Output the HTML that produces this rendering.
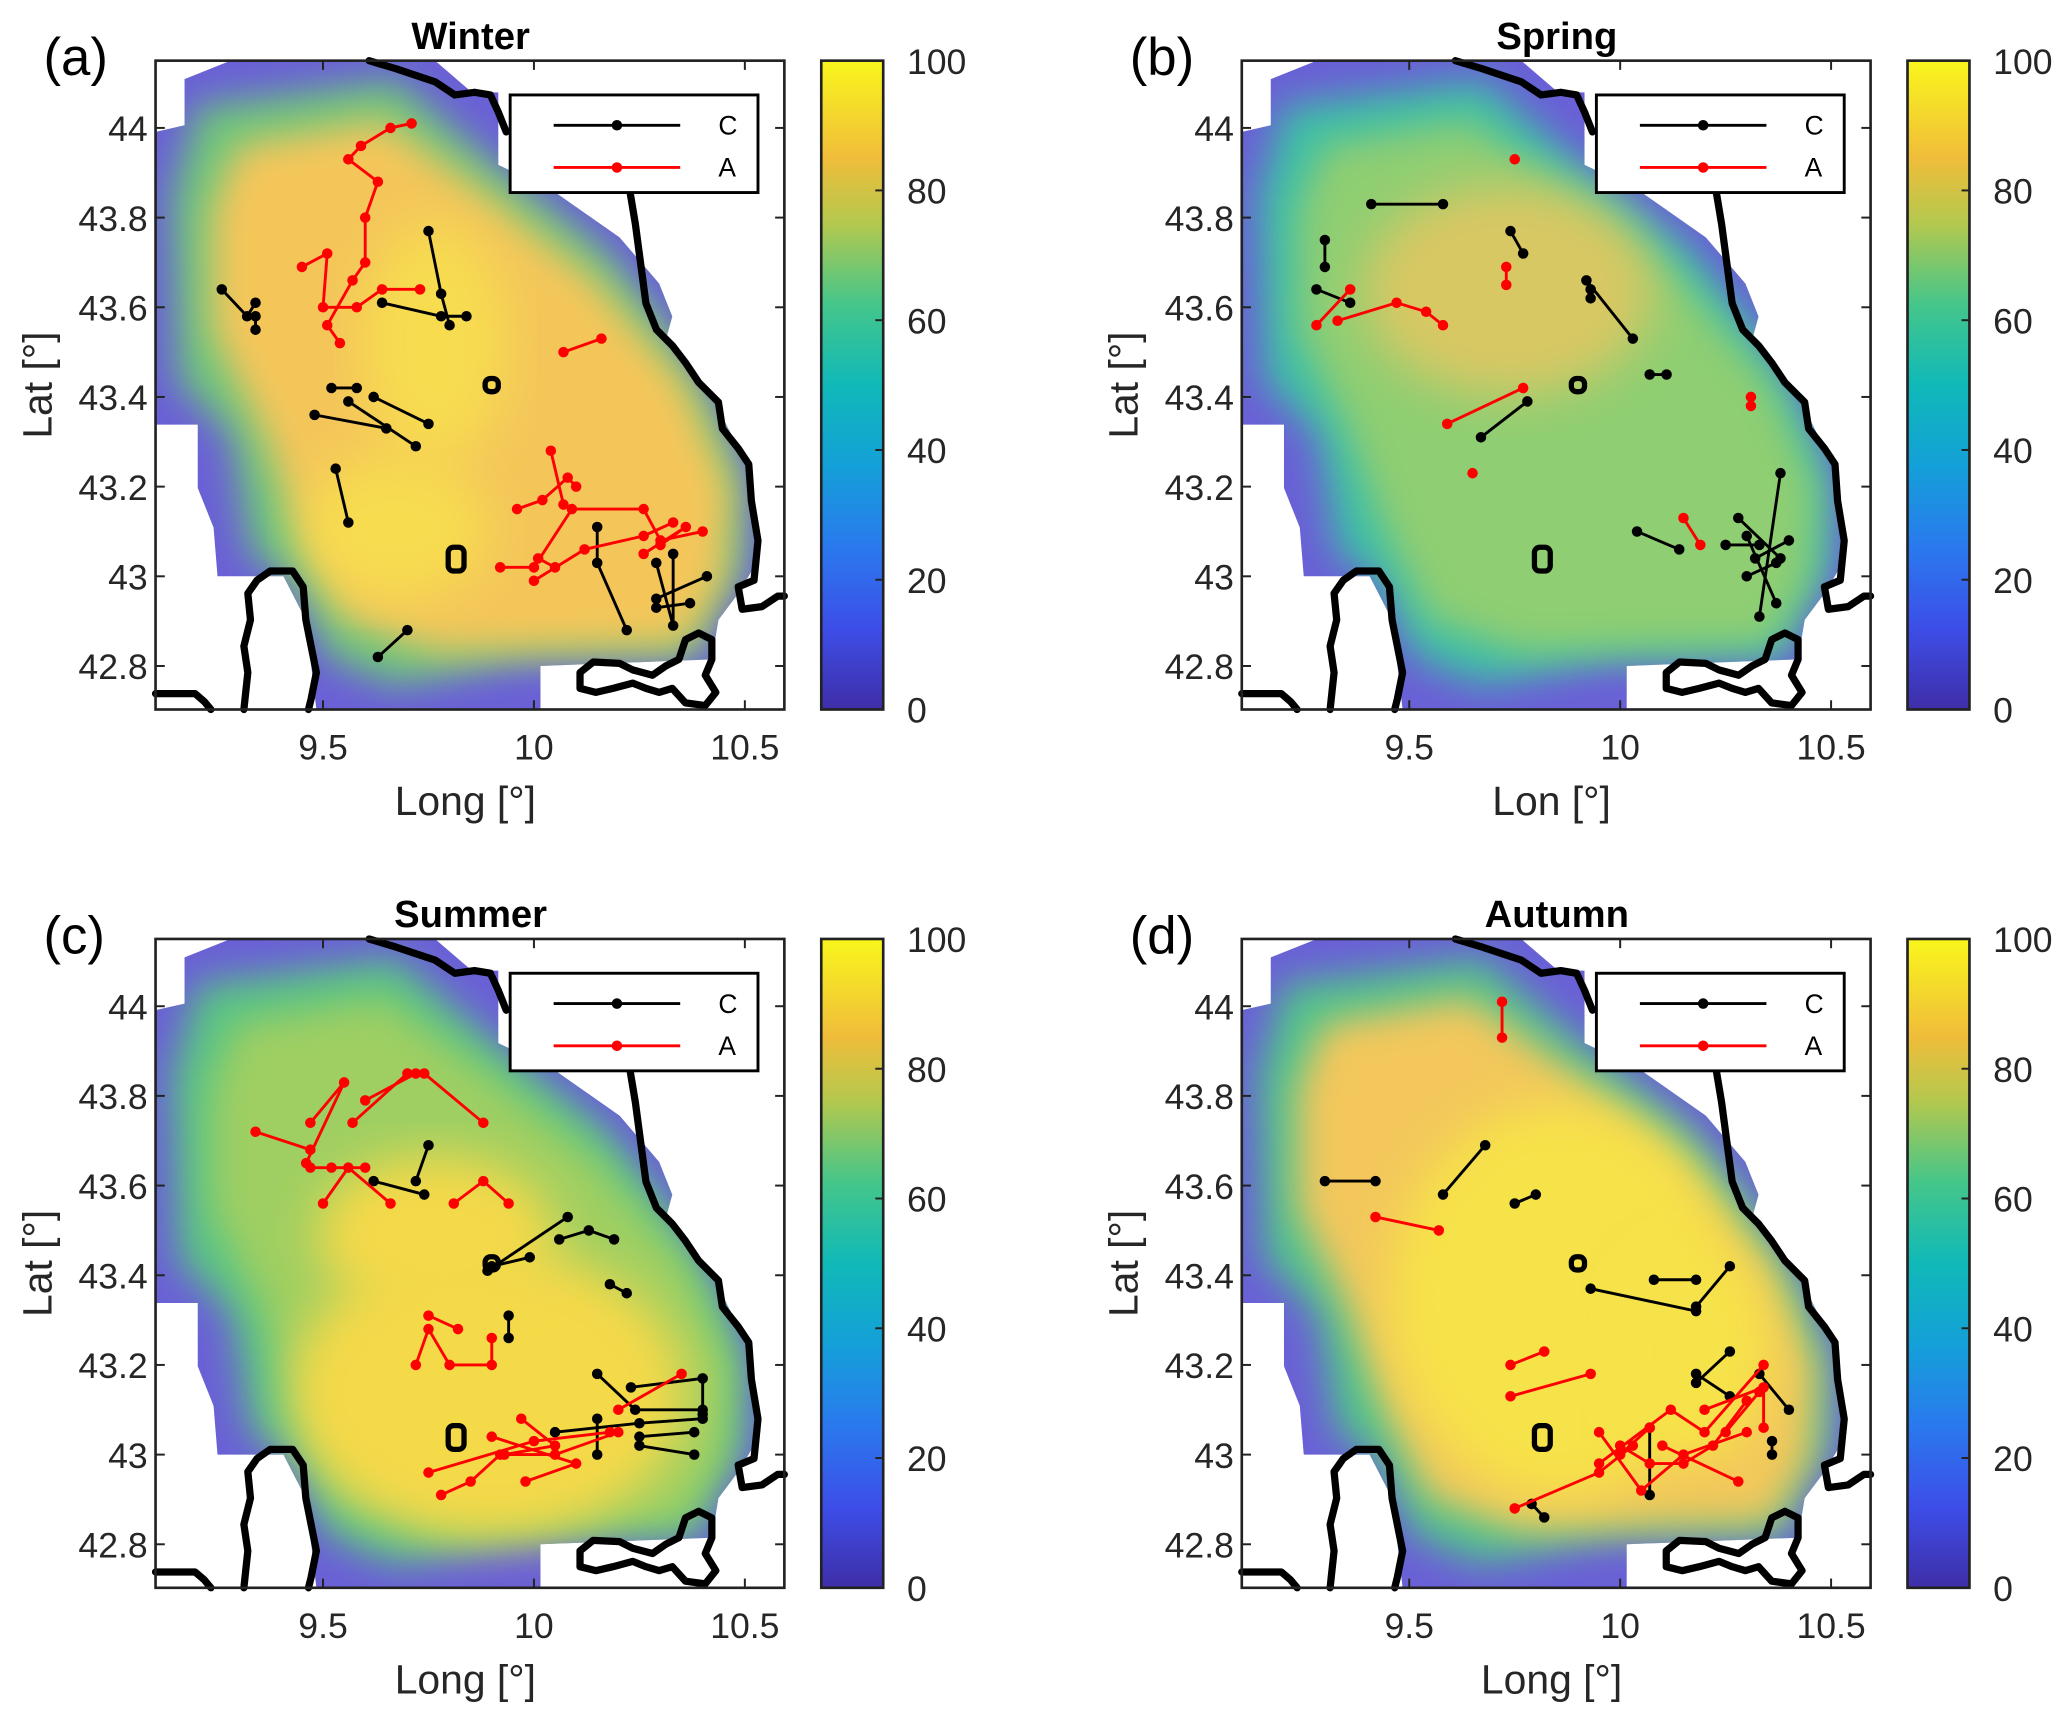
<!DOCTYPE html>
<html><head><meta charset="utf-8"><style>
html,body{margin:0;padding:0;background:#fff}
svg{display:block;font-family:"Liberation Sans",Arial,sans-serif}
</style></head><body>
<svg id="fig" width="2067" height="1721" viewBox="0 0 1568 1305" preserveAspectRatio="none" xmlns="http://www.w3.org/2000/svg">
<defs>
<filter id="blur1" x="-20%" y="-20%" width="140%" height="140%"><feGaussianBlur stdDeviation="14"/></filter>
<filter id="blur2" x="-20%" y="-20%" width="140%" height="140%"><feGaussianBlur stdDeviation="18"/></filter>
<clipPath id="dom"><polygon points="140,60 175,46 330,46 358,70 378,70 378,125 420,145 470,180 500,215 510,240 505,258 520,275 540,300 555,330 568,355 575,400 572,430 560,450 545,470 540,500 410,505 410,538 240,538 232,470 215,437 165,437 162,400 150,370 150,322 118,322 118,100 140,95"/></clipPath>
<linearGradient id="parula" x1="0" y1="1" x2="0" y2="0">
<stop offset="0" stop-color="#3f2ea8"/><stop offset="0.125" stop-color="#3d4ee8"/><stop offset="0.25" stop-color="#2a79ee"/><stop offset="0.375" stop-color="#14a0d8"/><stop offset="0.5" stop-color="#10b9b8"/><stop offset="0.625" stop-color="#45c68a"/><stop offset="0.75" stop-color="#b4c84e"/><stop offset="0.85" stop-color="#f0bd3a"/><stop offset="1" stop-color="#f9f61c"/>
</linearGradient>
</defs>
</svg>
<script>
const panelNames=['winter','spring','summer','autumn'];
const panelTitles=['Winter','Spring','Summer','Autumn'];
const panelLetters=['(a)','(b)','(c)','(d)'];
const xLabels=['Long [°]','Lon [°]','Long [°]','Long [°]'];
const xTicks=[9.5,10,10.5];
const yTicks=[42.8,43,43.2,43.4,43.6,43.8,44];
const yTickLabels=['42.8','43','43.2','43.4','43.6','43.8','44'];
const cbTicks=[0,20,40,60,80,100];
const redA=[[[9.71,44.01],[9.66,44.00],[9.59,43.96],[9.56,43.93],[9.63,43.88],[9.60,43.80],[9.60,43.70],[9.57,43.66],[9.51,43.56],[9.54,43.52]],[[9.45,43.69],[9.51,43.72],[9.50,43.60],[9.58,43.60],[9.64,43.64],[9.73,43.64]],[[10.07,43.50],[10.16,43.53]],[[9.92,43.02],[10.00,43.02],[10.09,43.15],[10.26,43.15],[10.30,43.08],[10.40,43.10]],[[9.96,43.15],[10.02,43.17],[10.08,43.22],[10.10,43.20]],[[10.00,42.99],[10.12,43.06],[10.26,43.09],[10.33,43.12]],[[10.04,43.28],[10.07,43.16]],[[10.01,43.04],[10.05,43.02]],[[10.26,43.05],[10.36,43.11],[10.30,43.07]]];
const blackA=[[[9.26,43.64],[9.32,43.58],[9.34,43.61]],[[9.34,43.58],[9.34,43.55]],[[9.75,43.77],[9.78,43.63],[9.80,43.56]],[[9.64,43.61],[9.78,43.58],[9.84,43.58]],[[9.52,43.42],[9.58,43.42]],[[9.48,43.36],[9.65,43.33]],[[9.56,43.39],[9.72,43.29]],[[9.62,43.40],[9.75,43.34]],[[9.53,43.24],[9.56,43.12]],[[9.63,42.82],[9.70,42.88]],[[10.15,43.11],[10.15,43.03],[10.22,42.88]],[[10.29,43.03],[10.33,42.89],[10.33,43.05]],[[10.29,42.95],[10.41,43.00]],[[10.29,42.93],[10.37,42.94]]];
const redB=[[[9.28,43.56],[9.36,43.64]],[[9.33,43.57],[9.47,43.61],[9.54,43.59],[9.58,43.56]],[[9.59,43.34],[9.77,43.42]],[[9.65,43.23]],[[9.73,43.69],[9.73,43.65]],[[9.75,43.93]],[[10.31,43.40],[10.31,43.38]],[[10.15,43.13],[10.19,43.07]]];
const blackB=[[[9.41,43.83],[9.58,43.83]],[[9.30,43.75],[9.30,43.69]],[[9.28,43.64],[9.36,43.61]],[[9.74,43.77],[9.77,43.72]],[[9.92,43.66],[10.03,43.53]],[[9.93,43.64],[9.93,43.62]],[[10.07,43.45],[10.11,43.45]],[[9.67,43.31],[9.78,43.39]],[[10.04,43.10],[10.14,43.06]],[[10.25,43.07],[10.33,43.07]],[[10.38,43.23],[10.33,42.91]],[[10.28,43.13],[10.38,43.04]],[[10.30,43.09],[10.37,42.94]],[[10.32,43.04],[10.40,43.08]],[[10.30,43.00],[10.37,43.03]]];
const redC=[[[9.34,43.72],[9.47,43.68]],[[9.47,43.74],[9.55,43.83],[9.46,43.65]],[[9.47,43.64],[9.52,43.64],[9.60,43.64]],[[9.50,43.56],[9.56,43.64],[9.66,43.56]],[[9.57,43.74],[9.70,43.85],[9.74,43.85],[9.88,43.74]],[[9.60,43.79],[9.72,43.85]],[[9.81,43.56],[9.88,43.61],[9.94,43.56]],[[9.72,43.20],[9.75,43.28],[9.80,43.20],[9.90,43.20],[9.90,43.26]],[[9.75,43.31],[9.82,43.28]],[[9.78,42.91],[9.85,42.94],[9.92,43.00],[10.05,43.00],[10.20,43.05]],[[9.75,42.96],[10.00,43.03],[10.18,43.05]],[[9.90,43.04],[10.10,42.98],[9.98,42.94]],[[9.97,43.08],[10.05,43.02],[9.93,43.00]],[[10.35,43.18],[10.20,43.10]]];
const blackC=[[[9.62,43.61],[9.74,43.58]],[[9.72,43.61],[9.75,43.69]],[[9.89,43.41],[10.08,43.53]],[[9.90,43.42],[9.99,43.44]],[[10.06,43.48],[10.13,43.50],[10.19,43.48]],[[10.18,43.38],[10.22,43.36]],[[9.94,43.31],[9.94,43.26]],[[10.23,43.15],[10.40,43.17],[10.40,43.09]],[[10.15,43.18],[10.24,43.10],[10.40,43.10]],[[10.05,43.05],[10.25,43.07],[10.40,43.08]],[[10.15,43.08],[10.15,43.00]],[[10.25,43.02],[10.38,43.00]],[[10.38,43.05],[10.25,43.04]]];
const redD=[[[9.72,44.01],[9.72,43.93]],[[9.42,43.53],[9.57,43.50]],[[9.74,43.20],[9.82,43.23]],[[9.74,43.13],[9.93,43.18]],[[9.75,42.88],[9.95,42.96],[10.03,43.02]],[[9.95,42.98],[10.12,43.10],[10.20,43.05],[10.34,43.20]],[[9.95,43.05],[10.05,42.92],[10.15,43.00],[10.30,43.05]],[[10.00,43.02],[10.07,42.98],[10.15,42.98],[10.22,43.02],[10.30,43.12]],[[10.10,43.02],[10.28,42.94]],[[10.20,43.10],[10.34,43.15],[10.34,43.06]],[[10.07,43.06],[10.00,43.00]],[[10.25,43.05],[10.33,43.14]]];
const blackD=[[[9.30,43.61],[9.42,43.61]],[[9.58,43.58],[9.68,43.69]],[[9.75,43.56],[9.80,43.58]],[[9.93,43.37],[10.18,43.32]],[[10.08,43.39],[10.18,43.39]],[[10.18,43.33],[10.26,43.42]],[[10.18,43.16],[10.26,43.23]],[[10.18,43.18],[10.26,43.13]],[[9.79,42.89],[9.82,42.86]],[[10.33,43.18],[10.40,43.10]],[[10.36,43.03],[10.36,43.00]],[[10.07,43.06],[10.07,42.91]]];
const redTracks=[redA,redB,redC,redD];
const blackTracks=[blackA,blackB,blackC,blackD];

const NS='http://www.w3.org/2000/svg';
const svg=document.getElementById('fig');
function mk(tag,attrs,parent){const e=document.createElementNS(NS,tag);for(const k in attrs)e.setAttribute(k,attrs[k]);(parent||svg).appendChild(e);return e;}
const L=118,R=595,T=46,B=538;
function X(lon){return L+(lon-9.103)*320;}
function Y(lat){return T+(44.15-lat)*340;}
const CBX=623,CBW=47;
function CY(v){return B-(v/100)*(B-T);}
const offsets=[[0,0],[824,0],[0,666],[824,666]];
const fieldStyles=[
 {green:'#6cc67c',inner:'#f4c65a',core:'#f7dc50',coreShape:[[330,260,55,90],[300,400,70,55]]},
 {green:'#3ebfa6',inner:'#8fce72',core:'#d8c863',coreShape:[[320,220,110,80]]},
 {green:'#58c484',inner:'#9fcf62',core:'#f4d94a',coreShape:[[370,390,150,110],[330,270,90,60]]},
 {green:'#4fc38c',inner:'#f3c75c',core:'#f6e24a',coreShape:[[360,320,130,150],[460,360,60,80]]}];
const greenPts="150,80 300,60 370,120 460,190 500,240 540,300 565,360 565,430 540,470 530,500 400,500 300,520 250,500 220,440 190,420 175,330 135,290 130,150";
const innerPts="180,110 290,90 360,140 450,210 520,290 555,370 550,440 520,490 330,495 260,470 225,400 200,330 160,250 160,160";
const coastPaths=[
"M280,46 L300,52 L330,62 L345,72 L360,70 L372,72 L378,85 L384,100",
"M478,146 L482,170 L486,200 L490,230 L498,250 L510,262 L520,275 L530,290 L545,305 L548,325 L560,340 L568,352 L570,380 L575,410 L572,440 L560,445 L563,462 L578,460 L590,452 L595,452",
"M118,526 L148,526 L155,532 L160,538",
"M185,538 L188,510 L185,490 L190,470 L188,450 L195,440 L205,433 L222,433 L230,445 L232,470 L236,490 L240,510 L236,530 L234,538",
"M440,510 L450,502 L470,503 L480,508 L495,512 L505,505 L515,500 L520,485 L530,480 L540,485 L540,500 L535,512 L543,525 L535,535 L520,533 L510,522 L500,525 L490,522 L480,518 L465,522 L452,525 L440,522 Z"];

for(let p=0;p<4;p++){
 const [dx,dy]=offsets[p];
 const g=mk('g',{transform:`translate(${dx},${dy})`});
 
 
 const fs=fieldStyles[p];
 const field=mk('g',{'clip-path':'url(#dom)'},g);
 
 
 mk('rect',{x:L,y:T,width:R-L,height:B-T,fill:'#6a60d6'},field);
 mk('polygon',{points:greenPts,fill:fs.green,filter:'url(#blur1)'},field);
 mk('polygon',{points:innerPts,fill:fs.inner,filter:'url(#blur1)'},field);
 fs.coreShape.forEach(c=>mk('ellipse',{cx:c[0],cy:c[1],rx:c[2],ry:c[3],fill:fs.core,filter:'url(#blur2)'},field));
 coastPaths.forEach(d=>{const c=mk('path',{d:d,fill:'none',stroke:'#000','stroke-width':5.5,'stroke-linejoin':'round','stroke-linecap':'round'},g);
  
  });
 [[373,292,5,5],[346,424,6,9]].forEach(s=>{const c=mk('rect',{x:s[0]-s[2],y:s[1]-s[3],width:2*s[2],height:2*s[3],rx:4,fill:'none',stroke:'#000','stroke-width':4},g);
  
  });
 const drawTracks=(tracks,color,name)=>{tracks.forEach(tr=>{
   if(tr.length>1){const pl=mk('polyline',{points:tr.map(q=>X(q[0])+','+Y(q[1])).join(' '),fill:'none',stroke:color,'stroke-width':2.2},g);
    
    }
   tr.forEach(q=>{const c=mk('circle',{cx:X(q[0]),cy:Y(q[1]),r:4,fill:color},g);
    
    });});};
 drawTracks(blackTracks[p],'#000','c');
 drawTracks(redTracks[p],'#f00','a');
 const fr=mk('rect',{x:L,y:T,width:R-L,height:B-T,fill:'none',stroke:'#222','stroke-width':2},g);
 
 
 xTicks.forEach(v=>{const x=X(v);
  mk('line',{x1:x,y1:B,x2:x,y2:B-7,stroke:'#222','stroke-width':1.5},g);
  mk('line',{x1:x,y1:T,x2:x,y2:T+7,stroke:'#222','stroke-width':1.5},g);
  const t=mk('text',{x:x,y:B+38,'font-size':27,'text-anchor':'middle',fill:'#262626'},g);t.textContent=String(v);
  
  });
 yTicks.forEach((v,i)=>{const y=Y(v);
  mk('line',{x1:L,y1:y,x2:L+7,y2:y,stroke:'#222','stroke-width':1.5},g);
  mk('line',{x1:R,y1:y,x2:R-7,y2:y,stroke:'#222','stroke-width':1.5},g);
  const t=mk('text',{x:L-6,y:y+10,'font-size':27,'text-anchor':'end',fill:'#262626'},g);t.textContent=yTickLabels[i];
  
  });
 const xl=mk('text',{x:353,y:618,'font-size':31,'text-anchor':'middle',fill:'#262626'},g);xl.textContent=xLabels[p];
 
 
 const yl=mk('text',{x:0,y:0,'font-size':31,'text-anchor':'middle',fill:'#262626',transform:'translate(39,292) rotate(-90)'},g);yl.textContent='Lat [°]';
 
 
 const ti=mk('text',{x:357,y:37,'font-size':29,'font-weight':'bold','text-anchor':'middle',fill:'#000'},g);ti.textContent=panelTitles[p];
 
 
 const le=mk('text',{x:33,y:57,'font-size':40,fill:'#000'},g);le.textContent=panelLetters[p];
 
 
 const lg=mk('g',{},g);
 
 
 mk('rect',{x:387,y:72,width:188,height:74,fill:'#fff',stroke:'#000','stroke-width':2.2},lg);
 [['#000','C',95],['#f00','A',127]].forEach(e=>{
  const en=mk('g',{},lg);
  
  
  mk('line',{x1:420,y1:e[2],x2:516,y2:e[2],stroke:e[0],'stroke-width':2.2},en);
  mk('circle',{cx:468,cy:e[2],r:4,fill:e[0]},en);
  const t=mk('text',{x:545,y:e[2]+7,'font-size':20,fill:'#000'},en);t.textContent=e[1];});
 const cb=mk('g',{},g);
 
 
 mk('rect',{x:CBX,y:T,width:CBW,height:B-T,fill:'url(#parula)',stroke:'#222','stroke-width':2},cb);
 cbTicks.forEach(v=>{const y=CY(v);
  mk('line',{x1:CBX+CBW,y1:y,x2:CBX+CBW-6,y2:y,stroke:'#222','stroke-width':1.5},cb);
  const t=mk('text',{x:CBX+65,y:y+10,'font-size':27,fill:'#262626'},cb);t.textContent=String(v);
  
  });
}
</script>
</body></html>
